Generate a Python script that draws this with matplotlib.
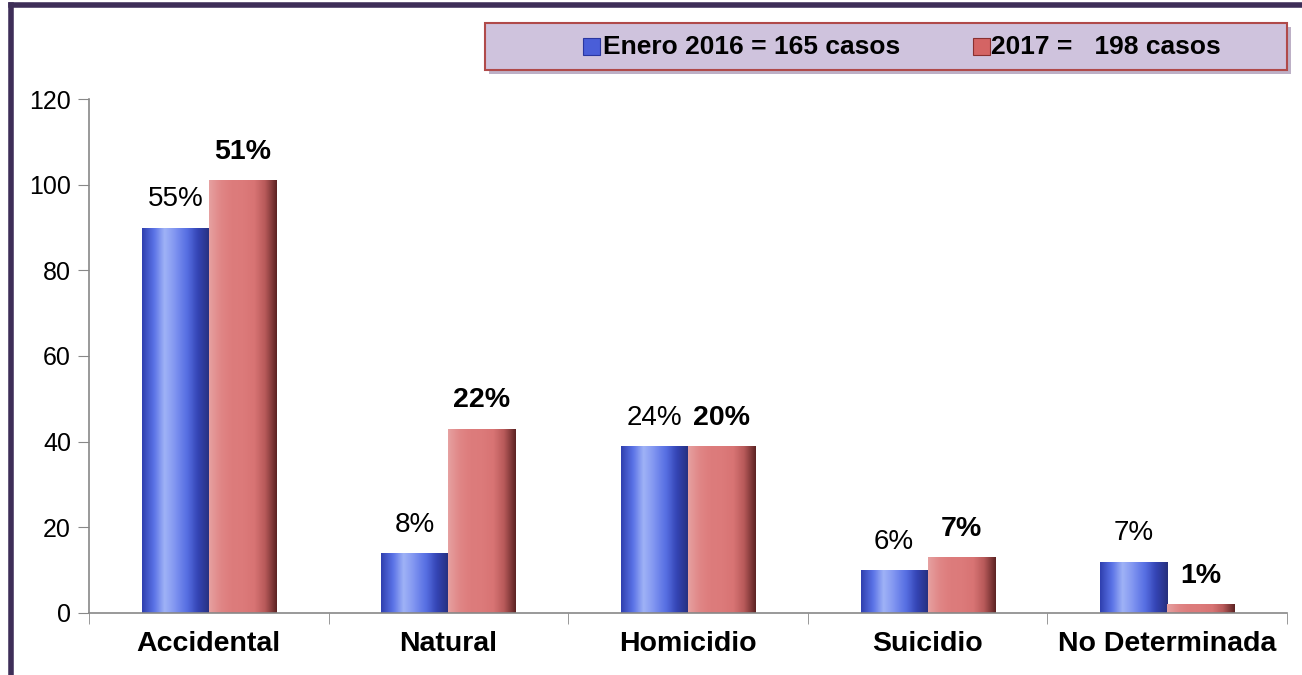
import numpy as np
import matplotlib
matplotlib.use("Agg")
import matplotlib.pyplot as plt
from matplotlib.colors import LinearSegmentedColormap
from matplotlib.patches import Rectangle
from matplotlib.lines import Line2D

plt.rcParams['font.family'] = ['Liberation Sans', 'DejaVu Sans']

# datos
categorias = ["Accidental", "Natural", "Homicidio", "Suicidio", "No Determinada"]
casos_2016 = [90, 14, 39, 10, 12]
casos_2017 = [101, 43, 39, 13, 2]
pct_2016 = ["55%", "8%", "24%", "6%", "7%"]
pct_2017 = ["51%", "22%", "20%", "7%", "1%"]
leyenda = ["Enero 2016 = 165 casos", "2017 =   198 casos"]

fig = plt.figure(figsize=(13.02, 6.75), dpi=100)
ax = fig.add_axes([0.0684, 0.0919, 0.9201, 0.7614])

x = np.arange(len(categorias))
w = 0.28
b1 = ax.bar(x - w/2, casos_2016, w, color="#5068e0", zorder=2)
b2 = ax.bar(x + w/2, casos_2017, w, color="#dc7878", zorder=2)

# degradados tipo textura (bisel)
cm_azul = LinearSegmentedColormap.from_list("az", ["#3040b0", "#5a72e6", "#9fb2f6", "#7d92f0", "#566ee2", "#3444b4", "#26307e"])
cm_rojo = LinearSegmentedColormap.from_list("ro", ["#e6a0a0", "#e08686", "#dd7c7c", "#dc7a7a", "#d87474", "#b85a5a", "#5e2424"])
grad = np.tile(np.linspace(0, 1, 64), (2, 1))
for barras, cm in ((b1, cm_azul), (b2, cm_rojo)):
    for p in barras:
        x0, y0 = p.get_x(), p.get_y()
        im = ax.imshow(grad, cmap=cm, aspect="auto", zorder=2.5,
                       extent=(x0, x0 + p.get_width(), y0, y0 + p.get_height()))
        im.set_clip_path(p)

ax.set_xlim(-0.5, len(categorias) - 0.5)
ax.set_ylim(0, 120)
ax.set_yticks(np.arange(0, 121, 20))
ax.set_xticks(np.arange(len(categorias) + 1) - 0.5, minor=True)
ax.set_xticks(x)
ax.set_xticklabels(categorias, fontsize=20.5, fontweight="bold")
ax.tick_params(axis="x", which="major", length=0, pad=13)
ax.tick_params(axis="x", which="minor", length=8, color="#888888", direction="out")
ax.tick_params(axis="y", length=8, color="#888888", labelsize=18, pad=5)
for s in ("top", "right"):
    ax.spines[s].set_visible(False)
for s in ("left", "bottom"):
    ax.spines[s].set_color("#888888")
    ax.spines[s].set_linewidth(1.2)

for p, t in zip(b1, pct_2016):
    ax.text(p.get_x() + p.get_width()/2, p.get_height() + 3.6, t,
            ha="center", va="bottom", fontsize=20)
for p, t in zip(b2, pct_2017):
    ax.text(p.get_x() + p.get_width()/2, p.get_height() + 3.6, t,
            ha="center", va="bottom", fontsize=20.5, fontweight="bold")

# marco exterior
fig.add_artist(Line2D([0.0085, 1.0], [0.9925, 0.9925], color="#3e2e58", lw=4))
fig.add_artist(Line2D([0.0085, 0.0085], [0.0, 0.9925], color="#3e2e58", lw=4))

# leyenda
fig.add_artist(Rectangle((0.3755, 0.8905), 0.616, 0.0696, transform=fig.transFigure,
                         facecolor="#bdb0c6", edgecolor="none", zorder=1))
fig.add_artist(Rectangle((0.3725, 0.8963), 0.616, 0.0696, transform=fig.transFigure,
                         facecolor="#cfc3dd", edgecolor="#b04a4a", lw=1.5, zorder=2))
fig.add_artist(Rectangle((0.4478, 0.9185), 0.013, 0.025, transform=fig.transFigure,
                         facecolor="#4a5ed8", edgecolor="#2a36a0", lw=0.8, zorder=3))
fig.text(0.4635, 0.930, leyenda[0], fontsize=19, fontweight="bold", va="center", zorder=3)
fig.add_artist(Rectangle((0.7473, 0.9185), 0.013, 0.025, transform=fig.transFigure,
                         facecolor="#d46464", edgecolor="#8a3030", lw=0.8, zorder=3))
fig.text(0.7615, 0.930, leyenda[1], fontsize=19, fontweight="bold", va="center", zorder=3)

fig.savefig("out.png", dpi=100)
